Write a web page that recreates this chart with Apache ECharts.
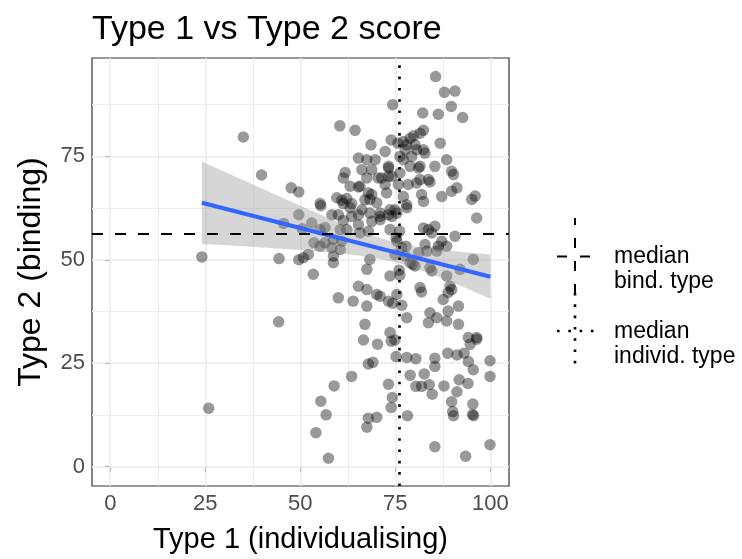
<!DOCTYPE html>
<html>
<head>
<meta charset="utf-8">
<script src="https://cdn.jsdelivr.net/npm/echarts@6/dist/echarts.min.js"></script>
<style>
  html, body { margin: 0; padding: 0; background: #fff; }
  #chart { width: 742px; height: 559px; }
</style>
</head>
<body>
<div id="chart"></div>
<script>
// scores: [type 1 (individualising), type 2 (binding)]
const scores = [
  [35.0,79.7],[39.8,70.5],[47.6,67.4],[49.6,66.4],[24.1,50.7],[44.4,50.3],[49.6,50.0],[45.6,58.8],[49.6,60.9],[50.5,57.5],[44.3,35.0],[25.9,14.1],
  [85.6,94.3],[87.9,90.5],[90.7,90.8],[74.3,87.5],[89.7,87.1],[82.2,85.5],[86.3,85.2],[92.7,84.4],[60.4,82.4],[64.4,81.3],
  [82.4,81.3],[81.5,80.6],[79.8,80.0],[78.9,79.4],[77.1,78.6],[78.0,77.8],[80.2,77.8],[80.6,76.6],[82.4,76.6],[82.8,75.8],
  [86.8,78.2],[73.9,79.0],[68.6,77.8],[72.3,76.2],[65.3,74.6],[67.5,74.2],[69.7,74.2],[73.2,72.6],[76.2,75.0],[77.1,74.2],
  [88.5,74.2],[89.8,71.4],[90.3,70.6],[85.4,72.6],[81.1,72.2],[83.7,69.4],[61.8,71.1],[66.2,71.8],[68.8,71.8],[67.5,69.8],
  [73.2,70.2],[61.3,69.8],[63.1,67.8],[65.7,67.8],[70.5,69.8],[72.3,68.2],[76.2,71.0],[78.4,68.2],[80.6,68.6],[81.5,69.4],
  [91.2,67.4],[89.8,66.6],[87.2,65.3],[95.1,64.6],[96.0,65.4],[96.4,60.1],
  [55.2,63.6],[59.6,65.0],[60.9,64.4],[62.2,64.8],[61.3,63.6],[63.5,63.6],[55.4,63.1],
  [67.9,66.2],[68.3,64.6],[72.7,66.2],[77.1,65.3],[78.0,63.3],[81.9,65.8],[82.4,64.1],
  [70.1,63.8],[67.0,64.5],[68.8,65.8],[65.3,67.6],[74.1,70.2],[71.4,69.8],[73.2,72.2],
  [63.1,62.6],[66.2,62.1],[68.3,61.3],[71.0,61.3],[73.6,62.1],[75.4,61.3],[58.3,60.9],[60.0,60.9],[74.9,62.1],[78.0,62.6],
  [77.6,76.6],[79.3,75.0],[81.5,72.6],[78.9,72.6],[84.1,68.8],[75.8,68.2],[75.7,78.2],
  [63.5,60.5],[65.3,60.9],[71.0,60.5],[73.2,60.9],[74.1,60.5],[71.0,59.7],[61.3,59.5],
  [53.0,58.9],[55.2,57.3],[56.5,57.8],[60.5,57.3],[62.2,57.3],[65.3,58.5],[65.7,56.5],[67.9,56.9],[68.8,59.3],[73.6,57.3],[75.2,55.3],[76.1,56.9],
  [82.4,57.7],[83.7,57.3],[85.4,58.1],[84.6,56.5],[87.2,54.5],[88.5,53.3],[90.7,55.7],[82.8,53.7],[83.3,52.1],[85.9,52.1],[86.3,53.3],
  [81.1,51.7],[77.8,53.3],[77.6,50.9],[75.4,54.5],[74.9,51.3],[76.7,52.9],
  [53.6,54.1],[55.2,53.3],[56.5,54.1],[58.3,52.9],[60.5,52.5],[58.7,54.9],[60.9,54.5],[52.1,51.3],[50.8,50.5],[58.7,50.9],[58.7,49.3],
  [68.3,50.1],[67.5,47.7],[79.6,48.9],[78.9,49.3],[80.2,48.5],[84.1,48.1],[84.6,47.3],[88.5,46.1],[89.4,43.6],[89.8,42.8],[88.9,42.1],
  [95.5,50.1],[92.0,47.7],[53.4,46.5],[73.6,46.1],[76.0,47.5],[76.2,46.3],
  [65.3,43.6],[67.5,42.8],[70.1,41.6],[60.0,40.8],[63.9,40.0],[67.5,38.8],[71.0,41.2],[73.2,40.0],[75.4,41.6],[76.7,39.0],[74.3,39.5],
  [81.5,43.3],[81.9,42.2],[91.6,38.8],[87.6,40.4],[88.9,37.6],[67.0,34.4],[78.0,36.0],[84.1,37.2],[85.9,36.0],[83.7,34.8],[88.5,35.2],[91.6,34.4],
  [94.2,31.2],[96.4,31.2],[73.6,32.4],
  [66.6,30.6],[70.3,29.6],[73.9,30.3],[74.9,30.6],
  [75.2,26.6],[78.0,26.4],[80.4,26.1],[85.4,26.2],[85.4,24.2],[88.8,27.4],[91.2,27.0],[93.1,27.4],[94.2,25.4],[95.5,23.4],[94.7,29.6],[96.4,30.8],[99.9,25.6],[99.9,21.8],
  [78.9,22.1],[82.6,22.4],[80.4,19.4],[81.9,19.4],[83.9,19.8],[84.7,17.5],[87.8,19.5],[91.8,21.0],[94.1,20.1],[91.2,18.1],[89.8,15.7],[90.1,13.3],[90.3,12.3],
  [95.4,15.1],[95.3,12.6],[95.6,12.3],
  [85.4,4.8],[93.5,2.5],[99.9,5.3],[78.2,12.3],[73.2,19.9],[74.2,16.7],[73.9,14.3],[67.9,24.8],[69.1,25.2],[63.5,21.8],[58.9,19.5],
  [55.4,15.8],[56.8,12.5],[54.1,8.2],[57.4,2.0],[67.9,11.7],[70.1,11.9],[67.5,9.5]
];

// linear fit and its confidence band
const fitLine = [[24.1, 63.8], [100, 45.9]];
const bandX = [24.1, 30, 35, 40, 45, 50, 55, 60, 65, 70, 75, 80, 85, 90, 95, 100];
const bandLo = [53.8, 53.6, 53.3, 53.0, 52.7, 52.4, 52.0, 51.6, 51.1, 50.4, 49.4, 48.0, 46.4, 44.6, 42.6, 40.6];
const bandHi = [73.8, 71.3, 69.3, 67.2, 65.1, 63.1, 61.1, 59.1, 57.2, 55.6, 54.2, 53.2, 52.6, 52.1, 51.7, 51.3];

// medians
const medianBind = 56.4;
const medianIndivid = 76.05;

// axis ticks
const majorTicks = [0, 25, 50, 75, 100];
const minorTicks = [12.5, 37.5, 62.5, 87.5];

const FONT = 'Liberation Sans, Arial, Helvetica, sans-serif';
const chart = echarts.init(document.getElementById('chart'));

function gridLines(axisKey) {
  const major = majorTicks.map(v => ({ [axisKey]: v, lineStyle: { color: '#ebebeb', width: 1.5, type: 'solid' } }));
  const minor = minorTicks.map(v => ({ [axisKey]: v, lineStyle: { color: '#ebebeb', width: 0.9, type: 'solid' } }));
  return minor.concat(major);
}

const axisCommon = {
  type: 'value',
  splitLine: { show: false },
  axisLine: { show: false },
  axisTick: { show: true, customValues: majorTicks, length: 5, lineStyle: { color: '#333', width: 1.1 } },
  axisLabel: { customValues: majorTicks, color: '#4d4d4d', fontSize: 22, fontFamily: FONT, margin: 7 }
};

const option = {
  animation: false,
  grid: { left: 92, right: 233, top: 58, bottom: 73, show: true, borderColor: '#333', borderWidth: 1.2, backgroundColor: 'transparent' },
  xAxis: Object.assign({}, axisCommon, { min: -4.8, max: 104.9 }),
  yAxis: Object.assign({}, axisCommon, { min: -4.7, max: 98.8 }),
  series: [
    {
      // panel grid lines
      type: 'line',
      data: [],
      silent: true,
      markLine: {
        silent: true, z: 1, symbol: ['none', 'none'], label: { show: false },
        data: gridLines('xAxis').concat(gridLines('yAxis'))
      }
    },
    {
      type: 'scatter',
      data: scores,
      symbolSize: 11.5,
      z: 2,
      itemStyle: { color: 'rgba(0,0,0,0.5)' },
      silent: true
    },
    {
      type: 'custom',
      z: 3,
      silent: true,
      data: [0],
      renderItem: function (params, api) {
        const pts = [];
        for (let i = 0; i < bandX.length; i++) pts.push(api.coord([bandX[i], bandHi[i]]));
        for (let i = bandX.length - 1; i >= 0; i--) pts.push(api.coord([bandX[i], bandLo[i]]));
        return { type: 'polygon', shape: { points: pts }, style: { fill: 'rgba(153,153,153,0.4)' } };
      }
    },
    {
      type: 'line',
      data: fitLine,
      z: 4,
      symbol: 'none',
      silent: true,
      lineStyle: { color: '#3366FF', width: 4 }
    },
    {
      type: 'line',
      data: [],
      silent: true,
      markLine: {
        silent: true, z: 5, symbol: ['none', 'none'], label: { show: false },
        data: [
          { yAxis: medianBind, lineStyle: { color: '#000', width: 2, type: [11, 12] } },
          { xAxis: medianIndivid, lineStyle: { color: '#000', width: 2.6, type: [2.6, 8.7] } }
        ]
      }
    }
  ],
  graphic: [
    { type: 'text', left: 92, top: 13, style: { text: 'Type 1 vs Type 2 score', font: '34px ' + FONT, fill: '#000' } },
    { type: 'text', x: 300.5, y: 540, style: { text: 'Type 1 (individualising)', font: '29px ' + FONT, fill: '#000', align: 'center', verticalAlign: 'middle' } },
    { type: 'text', x: 31, y: 272, rotation: Math.PI / 2, style: { text: 'Type 2 (binding)', font: '32px ' + FONT, fill: '#000', align: 'center', verticalAlign: 'middle' } },
    // legend keys
    { type: 'line', shape: { x1: 575, y1: 218, x2: 575, y2: 293 }, style: { stroke: '#000', lineWidth: 2, lineDash: [10, 13], lineDashOffset: 3 } },
    { type: 'line', shape: { x1: 557, y1: 256.5, x2: 594, y2: 256.5 }, style: { stroke: '#000', lineWidth: 2, lineDash: [10, 13] } },
    { type: 'line', shape: { x1: 575, y1: 293, x2: 575, y2: 368 }, style: { stroke: '#000', lineWidth: 2.6, lineDash: [2.6, 8.7] } },
    { type: 'line', shape: { x1: 557, y1: 331, x2: 596, y2: 331 }, style: { stroke: '#000', lineWidth: 2.6, lineDash: [2.6, 8.7] } },
    { type: 'text', x: 614, y: 257, style: { text: 'median', font: '23px ' + FONT, fill: '#000', verticalAlign: 'middle' } },
    { type: 'text', x: 614, y: 282, style: { text: 'bind. type', font: '23px ' + FONT, fill: '#000', verticalAlign: 'middle' } },
    { type: 'text', x: 614, y: 332, style: { text: 'median', font: '23px ' + FONT, fill: '#000', verticalAlign: 'middle' } },
    { type: 'text', x: 614, y: 357, style: { text: 'individ. type', font: '23px ' + FONT, fill: '#000', verticalAlign: 'middle' } }
  ]
};

chart.setOption(option);
</script>
</body>
</html>
